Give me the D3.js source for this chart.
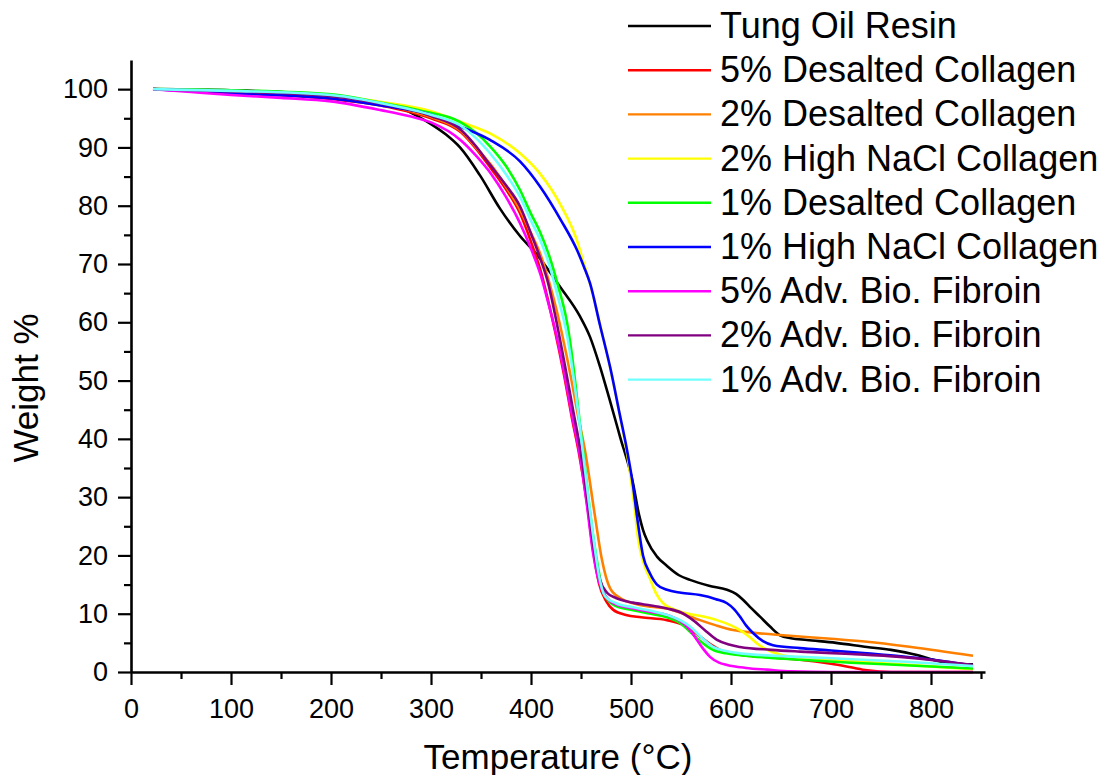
<!DOCTYPE html>
<html lang="en">
<head>
	<meta charset="UTF-8">
	<script type="text/javascript" src="https://d3js.org/d3.v7.min.js"></script>
	<title>TGA weight loss</title>
	<style>
		body{ margin: 0; background: #ffffff; }
		text{ font-family: "Liberation Sans", Arial, sans-serif; fill: #000; }
		.axis_title{ font-size: 35px; }
		.legend_text{ font-size: 36px; }
		.curve{ fill: none; stroke-width: 2.6px; }
	</style>
</head>
<body>
	<script>
		// series names and colours (legend order)
		const names = ["Tung Oil Resin", "5% Desalted Collagen", "2% Desalted Collagen",
			"2% High NaCl Collagen", "1% Desalted Collagen", "1% High NaCl Collagen",
			"5% Adv. Bio. Fibroin", "2% Adv. Bio. Fibroin", "1% Adv. Bio. Fibroin"];
		const colors = ["#000000", "#ff0000", "#ff8000", "#ffff00", "#00ff00",
			"#0000ff", "#ff00ff", "#800080", "#70ffff"];

		// [temperature °C, weight %]
		const tungOil = [[22,100],[100,99.8],[150,99.5],[200,98.9],[250,97.6],[270,96.7],[285,95.5],
			[300,94],[315,92.2],[329,90],[349,85.2],[369,79.5],[389,74.8],[406,71.6],[429,66.1],[449,61],
			[459,57.5],[469,52.4],[479,46.5],[489,40.4],[502,32.4],[508,27],[512,24.4],[516,22.6],
			[526,19.8],[536,18.2],[548,16.6],[559,15.8],[578,14.8],[596,14.1],[605,13.4],[612,12.4],
			[620,11],[629,9.5],[639,7.8],[649,6.3],[660,5.8],[676,5.5],[705,5],[736,4.3],[760,3.8],
			[786,2.9],[800,2.2],[816,1.6],[842,1.3]];
		const desalted5 = [[22,100],[100,99.4],[200,98.3],[250,97.2],[300,95],[330,92.6],[345,89.8],
			[360,86.4],[375,82.8],[389,78.7],[400,73.8],[410,68.6],[417,63.8],[424,58.5],[433,51],
			[441,43.5],[448,37.5],[456,29],[462,21],[468,15.2],[475,12.2],[482,10.7],[495,9.8],[510,9.4],
			[536,8.9],[552,8.1],[569,6.1],[580,4.7],[589,3.8],[600,3.2],[612,2.9],[640,2.5],[669,2.1],
			[700,1.4],[720,0.8],[736,0.3],[760,0],[842,0]];
		const desalted2 = [[22,100],[100,99.5],[200,98.5],[250,97.4],[300,95.2],[330,92.8],[345,90],
			[360,87],[375,83.3],[389,79.3],[400,75.3],[410,71.4],[418,67],[425,62.5],[431,58],[440,50.5],
			[447,44],[454,38],[464,26.7],[471,19.2],[479,14.4],[490,12.6],[502,11.8],[520,11.2],
			[536,10.9],[552,10],[569,8.9],[585,8],[602,7.2],[625,6.7],[652,6.3],[700,5.7],[736,5.2],
			[780,4.3],[842,2.8]];
		const highNaCl2 = [[22,100],[100,99.7],[200,99],[250,97.8],[300,96.2],[329,94.4],[359,92.4],
			[389,89],[409,85.5],[430,80],[445,74.5],[453,70],[460,66],[470,59],[480,51.5],[490,43],
			[497,36.5],[503,29],[507,23],[512,19],[519,16],[525,13.5],[532,11.8],[542,10.8],[552,10.2],
			[570,9.6],[586,8.9],[600,8],[609,7.2],[618,6.1],[626,4.9],[634,4],[642,3.4],[660,2.6],
			[700,2.2],[760,1.4],[842,0.5]];
		const desalted1 = [[22,100],[100,99.8],[200,99.1],[249,97.7],[290,96.3],[329,94.4],[345,92.5],
			[359,90.2],[375,86.8],[389,82.7],[400,78.6],[409,75.5],[418,71.5],[427,66.3],[436,60],
			[442,53],[447,45.5],[452,38],[458,29],[462,23.5],[467,18],[471,14.5],[476,12.5],[485,11.3],
			[502,10.6],[520,10],[536,9.4],[550,8.3],[559,6.9],[570,5.2],[582,3.8],[595,3.2],[609,2.9],
			[669,2.1],[720,1.6],[769,1.2],[842,0.6]];
		const highNaCl1 = [[22,100],[100,99.3],[200,98.4],[250,97.2],[300,95.6],[329,93.6],[359,91.3],
			[389,87.6],[409,83.3],[430,77.5],[446,72.4],[453,69.5],[459,66.7],[469,59.5],[479,52.4],
			[489,44],[496,38.1],[502,32],[506,26.7],[512,20],[519,16.9],[526,15],[536,14.1],[550,13.6],
			[569,13.2],[585,12.5],[596,11.8],[603,10.8],[609,9.5],[615,8],[622,6.7],[632,5.3],[642,4.6],
			[669,4.1],[700,3.7],[736,3.2],[770,2.7],[802,2.1],[842,1.1]];
		const fibroin5 = [[22,100],[60,99.5],[100,99],[150,98.5],[200,97.9],[250,96.4],[280,95.3],
			[300,94.3],[330,91.2],[345,88.6],[360,85.5],[375,81.5],[389,77],[400,72.6],[410,67.9],
			[417,63.5],[424,58.8],[433,51.5],[441,44],[449,37],[456,28.5],[462,20.5],[468,15.5],
			[475,12.9],[485,11.6],[502,10.9],[520,10.3],[536,9.8],[552,8.4],[560,7],[566,5.5],[573,3.8],
			[579,2.6],[588,1.6],[596,1.2],[615,0.7],[636,0.4],[660,0.1],[700,0],[842,0]];
		const fibroin2 = [[22,100],[100,99.6],[200,98.8],[250,97.5],[300,95.4],[330,93],[345,90.2],
			[359,87],[375,83.5],[389,79.9],[400,75.2],[410,70.6],[417,66.8],[425,60.5],[434,52.5],
			[442,45],[450,37.5],[457,29],[463,21],[469,15.8],[476,13.6],[485,12.7],[502,11.9],[520,11.4],
			[536,10.9],[550,10.2],[562,8.9],[575,7],[586,5.5],[598,4.7],[609,4.3],[640,3.8],[669,3.5],
			[720,3.1],[769,2.6],[810,1.9],[842,1.2]];
		const fibroin1 = [[22,100],[100,99.7],[200,99],[250,97.6],[300,95.6],[329,93.8],[345,91.6],
			[359,89],[375,85.4],[389,81.5],[400,77.4],[409,74.2],[418,70],[427,64.3],[436,57.8],
			[443,50],[448,43.5],[452,37.5],[458,29],[462,23.5],[468,16.5],[474,13],[485,11.8],
			[502,11.1],[520,10.5],[536,9.8],[550,8.8],[559,7.8],[570,6],[582,4.3],[595,3.6],[609,3.2],
			[669,2.6],[720,2.2],[769,1.8],[842,1.0]];
		const seriesData = [tungOil, desalted5, desalted2, highNaCl2, desalted1, highNaCl1,
			fibroin5, fibroin2, fibroin1];

		const xMajor = [0, 100, 200, 300, 400, 500, 600, 700, 800];
		const yMajor = [0, 10, 20, 30, 40, 50, 60, 70, 80, 90, 100];

		const width = 1105, height = 775;
		const svg = d3.select("body")
			.append("svg")
			.attr("width", width)
			.attr("height", height);

		// scales (0 °C at x=131, 0 % at y=672)
		const x = d3.scaleLinear().domain([0, 854]).range([131, 985]);
		const y = d3.scaleLinear().domain([0, 105]).range([672, 60]);

		// curves
		const line = d3.line()
			.x(function (d) { return x(d[0]); })
			.y(function (d) { return y(d[1]); })
			.curve(d3.curveMonotoneX);
		svg.selectAll(".curve")
			.data(seriesData)
			.enter()
			.append("path")
			.attr("class", "curve")
			.attr("stroke", function (d, i) { return colors[i]; })
			.attr("d", line);

		// x axis: minor ticks then major ticks with labels
		const xMinor = d3.range(50, 854, 100);
		const gx = svg.append("g")
			.attr("transform", "translate(0," + y(0) + ")");
		gx.append("g")
			.call(d3.axisBottom(x).tickValues(xMinor).tickSize(7).tickFormat(""))
			.call(function (g) { g.select(".domain").remove(); });
		gx.append("g")
			.call(d3.axisBottom(x).tickValues(xMajor).tickSize(13).tickSizeOuter(0).tickPadding(14));

		// y axis
		const yMinor = d3.range(5, 105, 10);
		const gy = svg.append("g")
			.attr("transform", "translate(" + x(0) + ",0)");
		gy.append("g")
			.call(d3.axisLeft(y).tickValues(yMinor).tickSize(7).tickFormat(""))
			.call(function (g) { g.select(".domain").remove(); });
		gy.append("g")
			.call(d3.axisLeft(y).tickValues(yMajor).tickSize(13).tickSizeOuter(0).tickPadding(10));

		svg.selectAll(".domain").attr("stroke", "#000").attr("stroke-width", 2.6);
		svg.selectAll(".tick line").attr("stroke", "#000").attr("stroke-width", 2.2);
		svg.selectAll(".tick text")
			.style("font-size", "27px")
			.style("font-family", "'Liberation Sans', Arial, sans-serif");

		// axis titles
		svg.append("text")
			.attr("class", "axis_title")
			.attr("x", 558)
			.attr("y", 769)
			.attr("text-anchor", "middle")
			.text("Temperature (°C)");
		svg.append("text")
			.attr("class", "axis_title")
			.attr("transform", "translate(38,388) rotate(-90)")
			.attr("text-anchor", "middle")
			.text("Weight %");

		// legend
		const legend = svg.selectAll(".legend")
			.data(names)
			.enter()
			.append("g")
			.attr("class", "legend")
			.attr("transform", function (d, i) { return "translate(628," + (26 + i * 44.2) + ")"; });
		legend.append("line")
			.attr("x1", 0).attr("x2", 83)
			.attr("y1", 0).attr("y2", 0)
			.attr("stroke", function (d, i) { return colors[i]; })
			.attr("stroke-width", 2.4);
		legend.append("text")
			.attr("class", "legend_text")
			.attr("x", 92)
			.attr("y", 12)
			.text(function (d) { return d; });
	</script>
</body>
</html>
